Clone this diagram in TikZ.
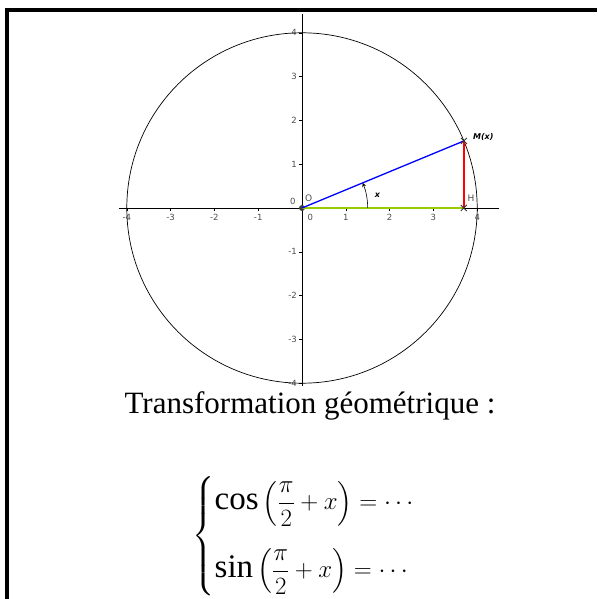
\documentclass[tikz,border=0pt]{standalone}
\usepackage{amsmath}
\usepackage{fontspec}
\setmainfont{Liberation Serif}
\newfontfamily\geo{DejaVu Sans}
\usetikzlibrary{positioning,arrows.meta,calc}
\definecolor{vertgeo}{RGB}{153,204,0}
\tikzset{
  graduation/.style={font=\geo\fontsize{8.5}{9}\selectfont, text=black!70, inner sep=1pt},
  etiquette/.style={font=\geo\fontsize{9}{10}\selectfont, text=black!70, inner sep=1pt},
  croix/.style={line width=0.9pt, black!80}
}

\begin{document}
\begin{tikzpicture}[x=43.8pt,y=43.8pt]
            \useasboundingbox (-302pt,-391pt) rectangle (295pt,208pt);
            % cadre
            \draw[line width=4pt] (-295pt,-391pt) -- (-295pt,198pt) -- (295pt,198pt);

            % axes
            \draw[line width=0.6pt] (-4.18,0) -- (4.49,0);
            \draw[line width=0.6pt] (0,-4.07) -- (0,4.43);
            \foreach \i in {-4,-3,-2,-1,1,2,3,4}
                {\draw[line width=0.4pt] (\i,0) -- (\i,-0.07);
                 \draw[line width=0.4pt] (0,\i) -- (-0.07,\i);
                 \node[graduation] at (\i,-0.21) {\i};
                 \node[graduation, left] at (-0.09,\i) {\i};}
            \node[graduation] at (0.19,-0.21) {0};
            \node[graduation] at (-0.21,0.15) {0};

            % cercle trigonometrique
            \draw[line width=0.7pt] (0,0) circle (4);

            \node[circle, fill=black!75, inner sep=0pt, minimum size=6pt] (O) at (0,0) {};
            \coordinate (M) at (22.5:4);
            \coordinate (H) at ({4*cos(22.5)},0);

            \draw[vertgeo, line width=1.6pt] (O.center) -- (H);
            \draw[blue, line width=1.3pt] (O.center) -- (M);
            \draw[red, line width=1.3pt] (M) -- (H);
            \draw[line width=0.6pt, -{Stealth[length=4pt,width=4pt]}] (1.5,0) arc (0:22.5:1.5);

            \foreach \p in {M,H}
                {\draw[croix] ($(\p)+(-3pt,-3pt)$) -- ($(\p)+(3pt,3pt)$);
                 \draw[croix] ($(\p)+(-3pt,3pt)$) -- ($(\p)+(3pt,-3pt)$);}

            \node[etiquette] at (0.15,0.22) {O};
            \node[etiquette] at (3.86,0.22) {H};
            \node[font=\geo\bfseries\itshape\fontsize{8}{9}\selectfont] at (4.14,1.63) {M(x)};
            \node[font=\geo\bfseries\itshape\fontsize{8}{9}\selectfont] at (1.72,0.3) {x};

            % texte
            \node[font=\fontsize{31}{36}\selectfont, anchor=base] (titre) at (8pt,-205pt) {Transformation géométrique :};
            \node[font=\fontsize{33}{38}\selectfont] (systeme) at (18pt,-328pt)
                {$\begin{cases}\cos\left(\dfrac{\pi}{2}+x\right)=\cdots\\[22pt] \sin\left(\dfrac{\pi}{2}+x\right)=\cdots\end{cases}$};
        \end{tikzpicture}
\end{document}
